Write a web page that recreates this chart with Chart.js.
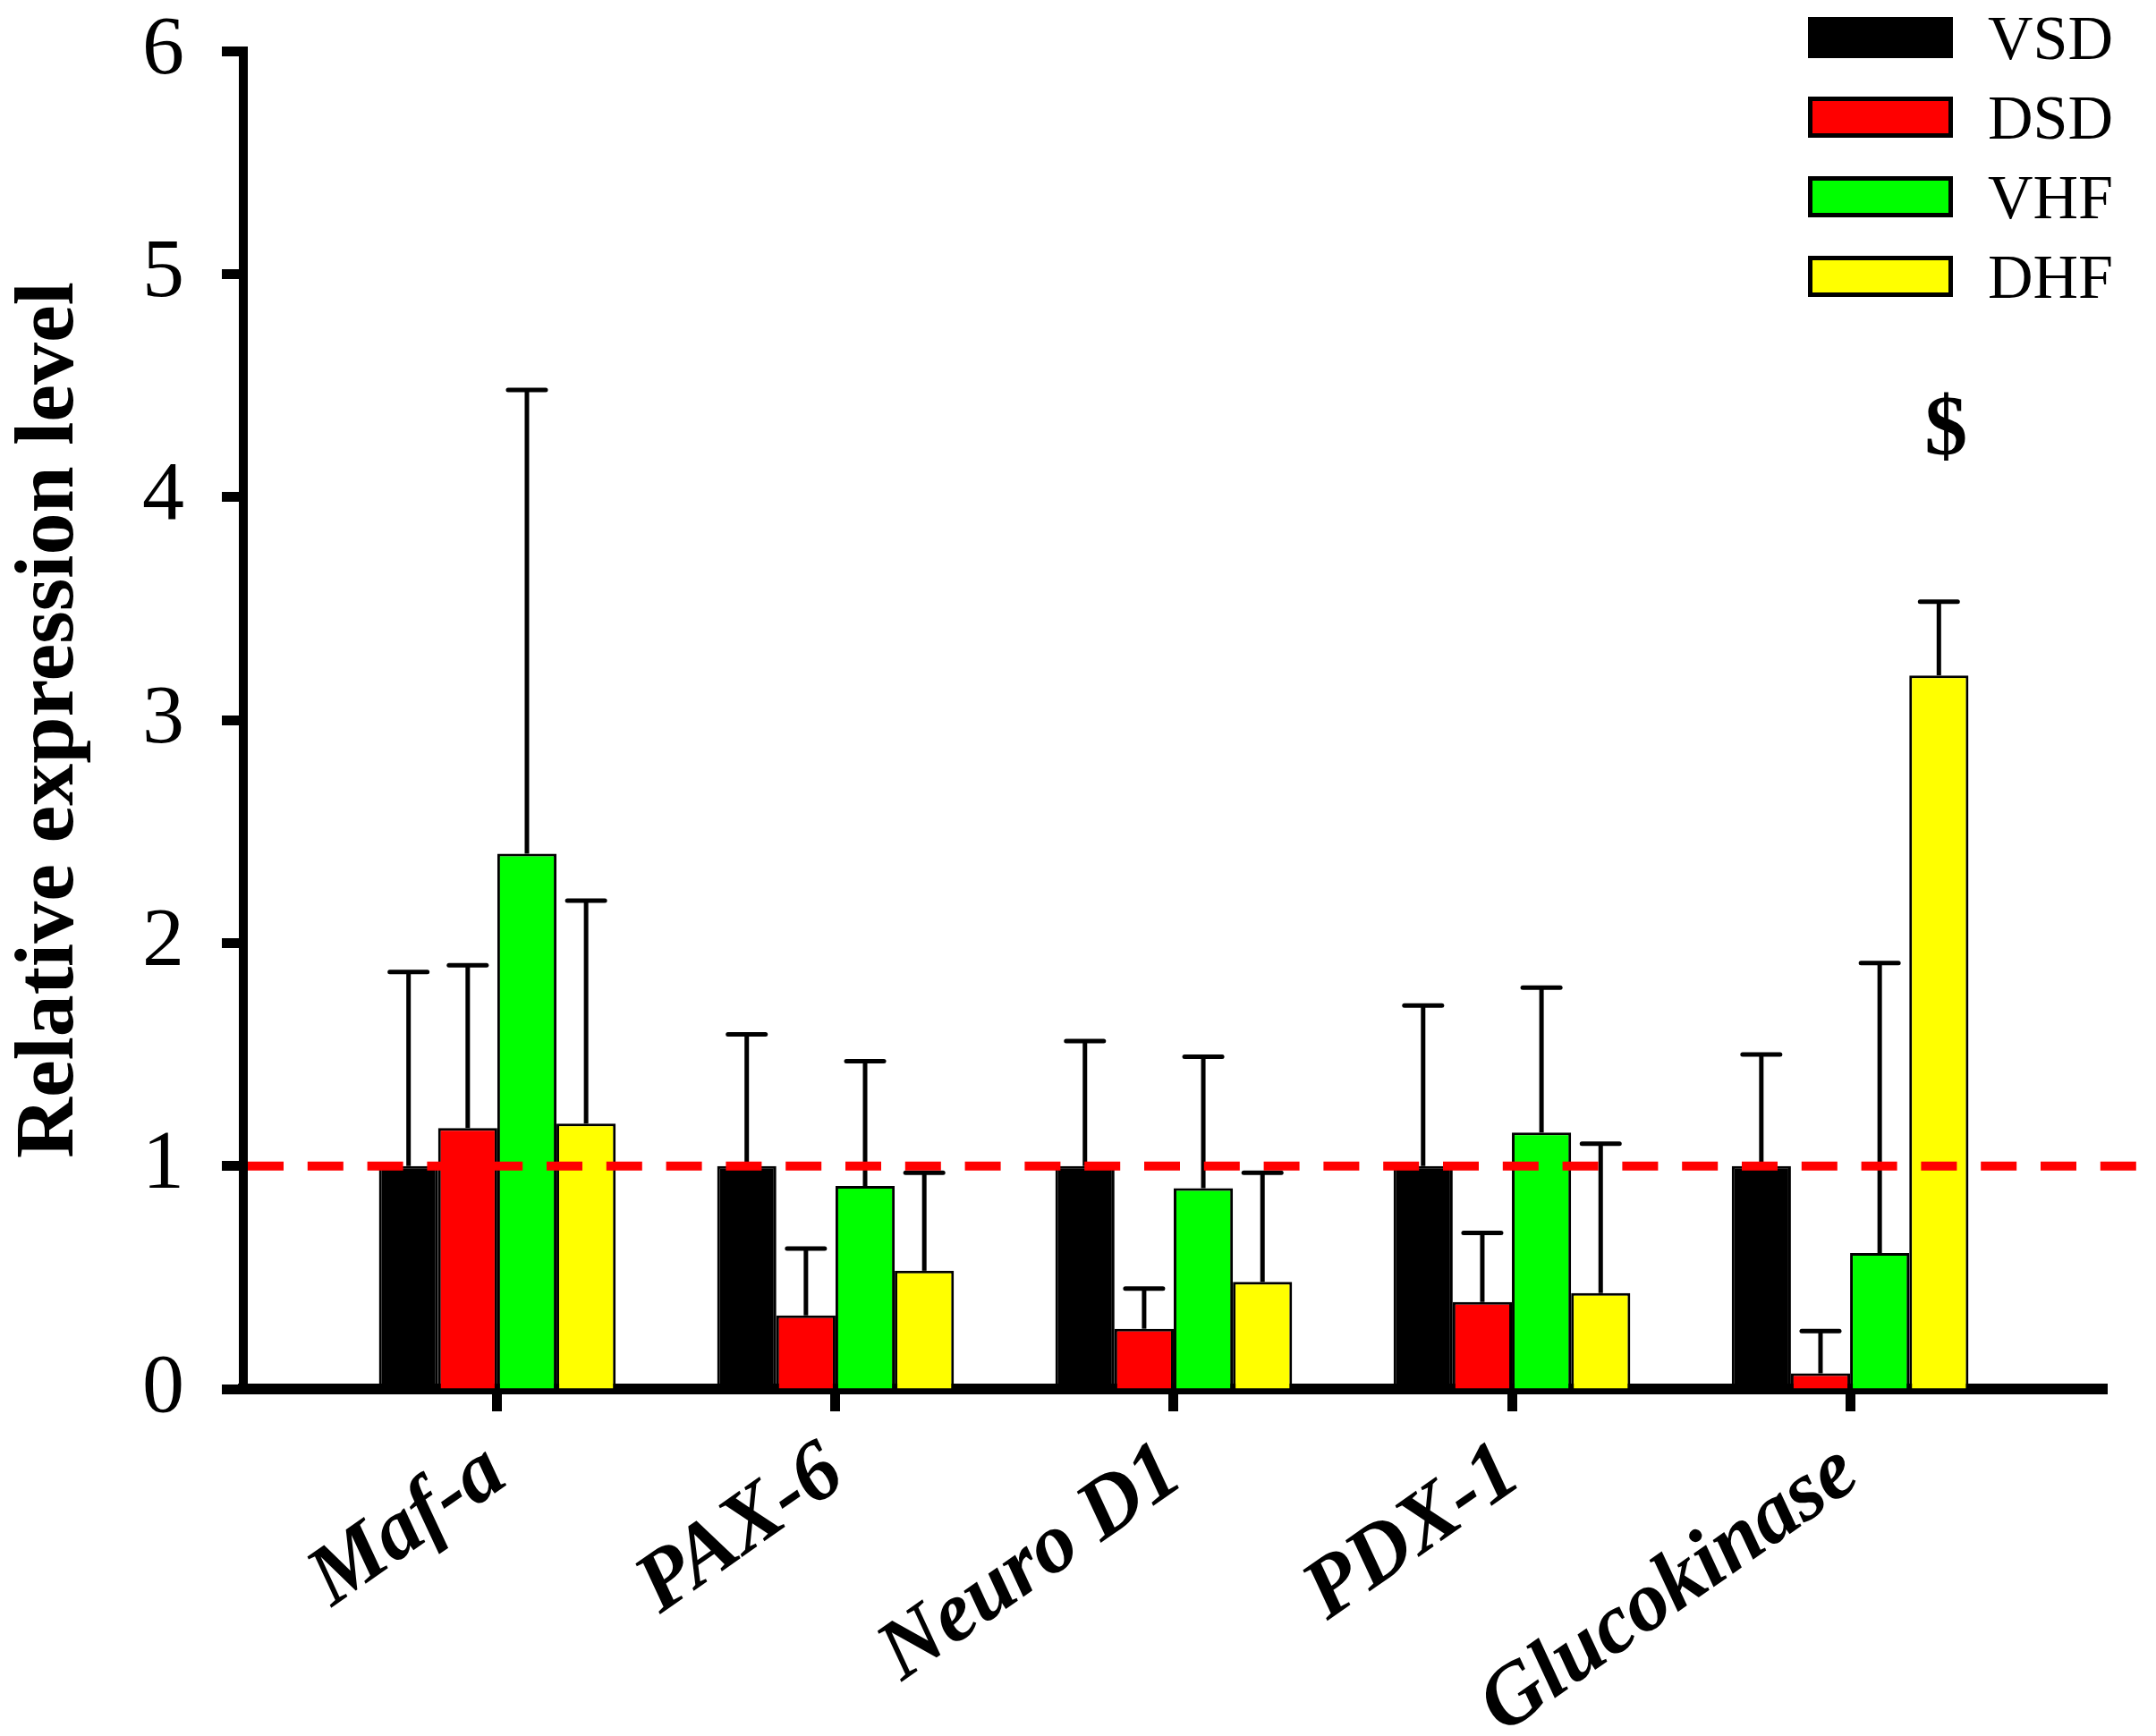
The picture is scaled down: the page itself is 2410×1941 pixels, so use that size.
<!DOCTYPE html>
<html>
<head>
<meta charset="utf-8">
<title>Relative expression level</title>
<script src="https://cdn.jsdelivr.net/npm/chart.js@4.4.1/dist/chart.umd.min.js"></script>
<style>
  html, body { margin: 0; padding: 0; background: #fff; }
  canvas { display: block; }
</style>
</head>
<body>
<canvas id="chart" width="2410" height="1941"></canvas>
<script>
// categories and groups
const genes = ['Maf-a', 'PAX-6', 'Neuro D1', 'PDX-1', 'Glucokinase'];
const groups = ['VSD', 'DSD', 'VHF', 'DHF'];
const groupColors = ['#000000', '#ff0000', '#00ff00', '#ffff00'];

// mean relative expression
const vsd = [1.00, 1.00, 1.00, 1.00, 1.00];
const dsd = [1.17, 0.33, 0.27, 0.39, 0.07];
const vhf = [2.40, 0.91, 0.90, 1.15, 0.61];
const dhf = [1.19, 0.53, 0.48, 0.43, 3.20];

// upper error (SD)
const vsdErr = [0.87, 0.59, 0.56, 0.72, 0.50];
const dsdErr = [0.73, 0.30, 0.18, 0.31, 0.19];
const vhfErr = [2.08, 0.56, 0.59, 0.65, 1.30];
const dhfErr = [1.00, 0.44, 0.49, 0.67, 0.33];

const yTicks = [0, 1, 2, 3, 4, 5, 6];
const referenceLevel = 1;
const marks = [{ gene: 4, group: 3, text: '$', value: 4.29 }];

const SERIF = '"Liberation Serif", "Times New Roman", serif';

const values = [vsd, dsd, vhf, dhf];
const errors = [vsdErr, dsdErr, vhfErr, dhfErr];

const datasets = groups.map((g, k) => ({
  label: g,
  data: values[k].map((v, i) => ({ x: i, y: v })),
  errors: errors[k],
  backgroundColor: groupColors[k],
  borderColor: '#000000',
  borderWidth: 3,
  barPercentage: 1,
  categoryPercentage: 0.7
}));

// upward error bars with caps
const errorBars = {
  id: 'errorBars',
  afterDatasetsDraw(chart) {
    const ctx = chart.ctx;
    const y = chart.scales.y;
    ctx.save();
    ctx.strokeStyle = '#000';
    ctx.lineWidth = 5;
    chart.data.datasets.forEach((ds, k) => {
      chart.getDatasetMeta(k).data.forEach((bar, i) => {
        const v = ds.data[i].y;
        const top = y.getPixelForValue(v + ds.errors[i]);
        const base = y.getPixelForValue(v);
        ctx.lineCap = 'butt';
        ctx.beginPath();
        ctx.moveTo(bar.x, base);
        ctx.lineTo(bar.x, top);
        ctx.stroke();
        ctx.lineCap = 'round';
        ctx.beginPath();
        ctx.moveTo(bar.x - 21, top);
        ctx.lineTo(bar.x + 21, top);
        ctx.stroke();
      });
    });
    ctx.restore();
  }
};

// dashed reference line, significance mark, legend
const overlay = {
  id: 'overlay',
  afterDraw(chart) {
    const ctx = chart.ctx;
    const area = chart.chartArea;
    const y = chart.scales.y;

    ctx.save();
    const yRef = y.getPixelForValue(referenceLevel);
    ctx.strokeStyle = '#ff0000';
    ctx.lineWidth = 10;
    ctx.setLineDash([40, 26.8]);
    ctx.beginPath();
    ctx.moveTo(area.left + 5, yRef);
    ctx.lineTo(area.right + 36, yRef);
    ctx.stroke();
    ctx.setLineDash([]);

    ctx.fillStyle = '#000';
    ctx.font = 'bold 96px ' + SERIF;
    ctx.textAlign = 'center';
    ctx.textBaseline = 'middle';
    marks.forEach(m => {
      const bar = chart.getDatasetMeta(m.group).data[m.gene];
      ctx.fillText(m.text, bar.x + 8, y.getPixelForValue(m.value));
    });

    const lx = area.right - 334, ly = 19, bw = 162, bh = 46, step = 89;
    ctx.font = '70px ' + SERIF;
    ctx.textAlign = 'left';
    ctx.textBaseline = 'alphabetic';
    chart.data.datasets.forEach((ds, k) => {
      const top = ly + k * step;
      ctx.fillStyle = ds.backgroundColor;
      ctx.fillRect(lx, top, bw, bh);
      ctx.lineWidth = 5;
      ctx.strokeStyle = '#000';
      ctx.strokeRect(lx + 2.5, top + 2.5, bw - 5, bh - 5);
      ctx.fillStyle = '#000';
      ctx.fillText(ds.label, lx + 201, top + bh / 2 + 24);
    });
    ctx.restore();
  }
};

new Chart(document.getElementById('chart'), {
  type: 'bar',
  data: { datasets },
  plugins: [errorBars, overlay],
  options: {
    responsive: false,
    animation: false,
    devicePixelRatio: 1,
    layout: { padding: { left: 0, top: 57, right: 55, bottom: 0 } },
    plugins: {
      legend: { display: false },
      tooltip: { enabled: false }
    },
    scales: {
      x: {
        type: 'linear',
        min: -0.751,
        max: 4.759,
        offset: false,
        z: 1,
        afterBuildTicks: s => { s.ticks = genes.map((_, i) => ({ value: i })); },
        afterFit: s => { s.height = 388; },
        grid: {
          drawOnChartArea: false,
          drawTicks: true,
          tickLength: 25,
          tickWidth: 11,
          tickColor: '#000',
          offset: false
        },
        border: { display: true, width: 12, color: '#000' },
        ticks: {
          autoSkip: false,
          minRotation: 35,
          maxRotation: 35,
          padding: 13,
          color: '#000',
          font: { family: SERIF, size: 95, weight: 'bold', style: 'italic' },
          callback: v => genes[v]
        }
      },
      y: {
        min: 0,
        max: 6,
        afterBuildTicks: s => { s.ticks = yTicks.map(v => ({ value: v })); },
        afterFit: s => { s.width = 272; s.paddingTop = 0; s.paddingBottom = 0; },
        grid: {
          drawOnChartArea: false,
          tickLength: 24,
          tickWidth: 11,
          tickColor: '#000'
        },
        border: { display: true, width: 10, color: '#000' },
        ticks: {
          padding: 42,
          color: '#000',
          font: { family: SERIF, size: 94 }
        },
        title: {
          display: true,
          text: 'Relative expression level',
          color: '#000',
          padding: 0,
          font: { family: SERIF, size: 94, weight: 'bold' }
        }
      }
    }
  }
});
</script>
</body>
</html>
